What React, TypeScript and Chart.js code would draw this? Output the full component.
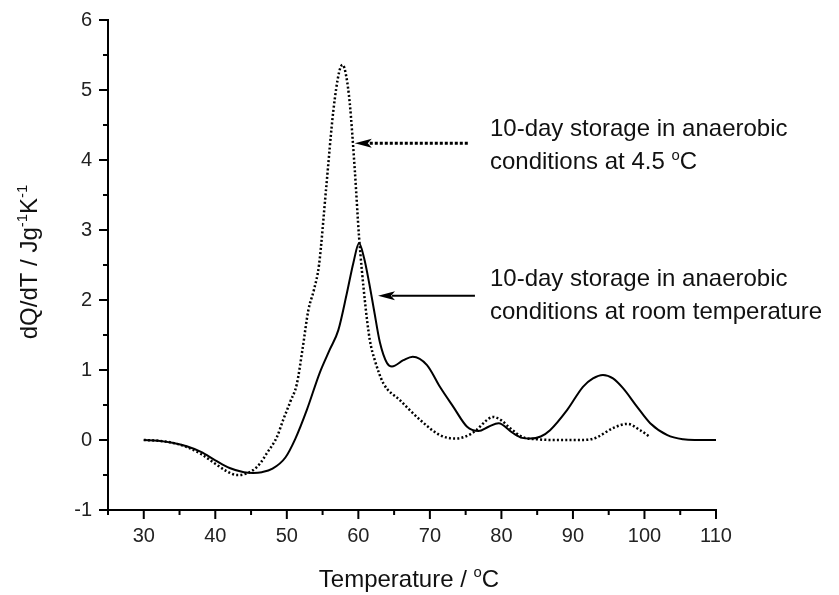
import React, { useEffect, useRef } from 'react';
import { Chart, registerables } from 'chart.js';

Chart.register(...registerables);

// ---- Data ----
const roomTempX = [30, 32, 34, 36, 38, 40, 42, 44, 45.3, 46.5, 48, 49.8, 51.2, 52.8, 54.6, 56, 57.2, 58.4, 59.3, 60.1, 60.8, 61.5, 62.2, 63, 64, 64.7, 66.3, 67.6, 69.6, 71.4, 73.3, 75.2, 76.8, 78.2, 79.6, 81.6, 82.9, 84, 85.5, 86.8, 89.2, 91.4, 92.8, 94.2, 95.6, 97, 99, 100.8, 103.2, 105.4, 107, 110];
const roomTempY = [0, -0.01, -0.04, -0.09, -0.17, -0.29, -0.4, -0.46, -0.47, -0.46, -0.41, -0.25, 0.02, 0.43, 0.96, 1.29, 1.57, 2.1, 2.53, 2.81, 2.6, 2.25, 1.85, 1.4, 1.1, 1.05, 1.14, 1.19, 1.07, 0.76, 0.47, 0.19, 0.13, 0.19, 0.24, 0.1, 0.03, 0.02, 0.05, 0.14, 0.43, 0.76, 0.88, 0.93, 0.88, 0.74, 0.47, 0.24, 0.07, 0.01, 0.0, 0.0];

const coldX = [30, 32, 34, 36, 38, 40, 41.5, 43, 44, 45.3, 46.3, 47.2, 48.6, 49.5, 50.5, 51.4, 52.2, 53, 53.8, 54.5, 55.5, 56.5, 57.3, 57.8, 58.3, 58.8, 59.5, 60.1, 60.9, 61.6, 62.3, 63.5, 65.8, 68.6, 71.4, 73.5, 75, 76.5, 77.8, 78.8, 80, 81.2, 83, 85, 88, 91, 92.5, 93.4, 95.6, 97.6, 99.4, 100.8];
const coldY = [0, -0.01, -0.04, -0.1, -0.2, -0.34, -0.44, -0.5, -0.49, -0.43, -0.33, -0.19, 0.04, 0.29, 0.55, 0.8, 1.3, 1.85, 2.15, 2.5, 3.6, 4.7, 5.25, 5.36, 5.2, 4.81, 3.86, 2.9, 2.0, 1.43, 1.14, 0.81, 0.57, 0.29, 0.07, 0.02, 0.05, 0.14, 0.27, 0.33, 0.28, 0.17, 0.04, 0.01, 0.0, 0.0, 0.01, 0.04, 0.17, 0.23, 0.14, 0.04];

const xMajorTicks = [30, 40, 50, 60, 70, 80, 90, 100, 110];
const xMinorTicks = [25, 35, 45, 55, 65, 75, 85, 95, 105];
const yMajorTicks = [-1, 0, 1, 2, 3, 4, 5, 6];
const yMinorTicks = [-0.5, 0.5, 1.5, 2.5, 3.5, 4.5, 5.5];

type Seg = { t: string; sup?: boolean };
const xTitle: Seg[] = [{ t: 'Temperature / ' }, { t: 'o', sup: true }, { t: 'C' }];
const yTitle: Seg[] = [{ t: 'dQ/dT / Jg' }, { t: '-1', sup: true }, { t: 'K' }, { t: '-1', sup: true }];
const coldLabel: Seg[][] = [[{ t: '10-day storage in anaerobic' }], [{ t: 'conditions at 4.5 ' }, { t: 'o', sup: true }, { t: 'C' }]];
const roomLabel: Seg[][] = [[{ t: '10-day storage in anaerobic' }], [{ t: 'conditions at room temperature' }]];

// annotation anchors in data coordinates
const coldAnnot = { textX: 78.4, textY: 4.34, arrowTailX: 75.3, arrowTipX: 59.5, arrowY: 4.24 };
const roomAnnot = { textX: 78.4, textY: 2.2, arrowTailX: 76.3, arrowTipX: 62.75, arrowY: 2.06 };

const FONT = '"Liberation Sans", Arial, Helvetica, sans-serif';
const INK = '#111';

function segWidth(ctx: CanvasRenderingContext2D, segs: Seg[], size: number) {
  let w = 0;
  for (const s of segs) {
    ctx.font = `${s.sup ? size * 0.62 : size}px ${FONT}`;
    w += ctx.measureText(s.t).width;
  }
  return w;
}

function drawRich(ctx: CanvasRenderingContext2D, segs: Seg[], x: number, y: number, size: number, align: 'left' | 'center') {
  const w = segWidth(ctx, segs, size);
  let cx = align === 'center' ? x - w / 2 : x;
  ctx.textAlign = 'left';
  ctx.textBaseline = 'alphabetic';
  for (const s of segs) {
    ctx.font = `${s.sup ? size * 0.62 : size}px ${FONT}`;
    ctx.fillText(s.t, cx, s.sup ? y - size * 0.4 : y);
    cx += ctx.measureText(s.t).width;
  }
}

function drawArrow(ctx: CanvasRenderingContext2D, tail: number, tip: number, y: number, dotted: boolean) {
  const headLen = 17;
  const half = 4.5;
  ctx.save();
  ctx.strokeStyle = '#000';
  ctx.fillStyle = '#000';
  ctx.lineWidth = dotted ? 3 : 2;
  ctx.setLineDash(dotted ? [3, 2] : []);
  ctx.beginPath();
  ctx.moveTo(tail, y);
  ctx.lineTo(tip + headLen - 3, y);
  ctx.stroke();
  ctx.setLineDash([]);
  ctx.beginPath();
  ctx.moveTo(tip, y);
  ctx.lineTo(tip + headLen, y - half);
  ctx.lineTo(tip + headLen - 4, y);
  ctx.lineTo(tip + headLen, y + half);
  ctx.closePath();
  ctx.fill();
  ctx.restore();
}

const decorPlugin = {
  id: 'decor',
  afterDraw(chart: any) {
    const ctx: CanvasRenderingContext2D = chart.ctx;
    const xs = chart.scales.x;
    const ys = chart.scales.y;
    const { left, bottom, top, right } = chart.chartArea;
    ctx.save();
    // ticks
    ctx.strokeStyle = '#000';
    ctx.lineWidth = 2;
    ctx.beginPath();
    for (const v of xMajorTicks) { const p = xs.getPixelForValue(v); ctx.moveTo(p, bottom); ctx.lineTo(p, bottom + 9); }
    for (const v of xMinorTicks) { const p = xs.getPixelForValue(v); ctx.moveTo(p, bottom); ctx.lineTo(p, bottom + 5); }
    for (const v of yMajorTicks) { const p = ys.getPixelForValue(v); ctx.moveTo(left, p); ctx.lineTo(left - 9, p); }
    for (const v of yMinorTicks) { const p = ys.getPixelForValue(v); ctx.moveTo(left, p); ctx.lineTo(left - 5, p); }
    ctx.stroke();

    ctx.fillStyle = INK;
    // x title
    drawRich(ctx, xTitle, (left + right) / 2 - 3, 587, 24, 'center');
    // y title
    ctx.save();
    ctx.translate(37, (top + bottom) / 2 - 3);
    ctx.rotate(-Math.PI / 2);
    drawRich(ctx, yTitle, 0, 0, 24, 'center');
    ctx.restore();

    // annotations
    const lineGap = 33;
    for (const [annot, lines, dotted] of [[coldAnnot, coldLabel, true], [roomAnnot, roomLabel, false]] as any) {
      const tx = xs.getPixelForValue(annot.textX);
      const ty = ys.getPixelForValue(annot.textY);
      lines.forEach((segs: Seg[], i: number) => drawRich(ctx, segs, tx, ty + i * lineGap, 24, 'left'));
      drawArrow(ctx, xs.getPixelForValue(annot.arrowTailX), xs.getPixelForValue(annot.arrowTipX), ys.getPixelForValue(annot.arrowY), dotted);
    }
    ctx.restore();
  },
};

export default function App() {
  const ref = useRef<HTMLCanvasElement | null>(null);
  useEffect(() => {
    if (!ref.current) return;
    const chart = new Chart(ref.current, {
      type: 'line',
      data: {
        datasets: [
          {
            label: '10-day storage in anaerobic conditions at room temperature',
            data: roomTempX.map((x, i) => ({ x, y: roomTempY[i] })),
            borderColor: '#000',
            borderWidth: 2,
            pointRadius: 0,
            fill: false,
            cubicInterpolationMode: 'monotone',
          },
          {
            label: '10-day storage in anaerobic conditions at 4.5 °C',
            data: coldX.map((x, i) => ({ x, y: coldY[i] })),
            borderColor: '#000',
            borderWidth: 2.5,
            borderDash: [2, 2.2],
            pointRadius: 0,
            fill: false,
            cubicInterpolationMode: 'monotone',
          },
        ],
      },
      options: {
        responsive: false,
        animation: false,
        devicePixelRatio: 1,
        layout: { padding: { left: 0, top: 20, right: 123, bottom: 0 } },
        plugins: { legend: { display: false }, tooltip: { enabled: false } },
        scales: {
          x: {
            type: 'linear',
            min: 25,
            max: 110,
            afterBuildTicks: (s: any) => { s.ticks = xMajorTicks.map((v) => ({ value: v })); },
            afterFit: (s: any) => { s.height = 85; s.paddingLeft = 0; s.paddingRight = 0; },
            grid: { display: true, drawOnChartArea: false, drawTicks: false },
            border: { display: true, color: '#000', width: 2 },
            ticks: { font: { family: FONT, size: 20 }, color: '#222', padding: 14, maxRotation: 0, autoSkip: false },
          },
          y: {
            type: 'linear',
            min: -1,
            max: 6,
            afterBuildTicks: (s: any) => { s.ticks = yMajorTicks.map((v) => ({ value: v })); },
            afterFit: (s: any) => { s.width = 108; s.paddingTop = 0; s.paddingBottom = 0; },
            grid: { display: true, drawOnChartArea: false, drawTicks: false },
            border: { display: true, color: '#000', width: 2 },
            ticks: { font: { family: FONT, size: 20 }, color: '#222', padding: 16 },
          },
        },
      },
      plugins: [decorPlugin],
    } as any);
    return () => chart.destroy();
  }, []);
  return (
    <div style={{ position: 'fixed', left: 0, top: 0, width: 839, height: 595, background: '#fff' }}>
      <canvas ref={ref} width={839} height={595} style={{ display: 'block' }} />
    </div>
  );
}
